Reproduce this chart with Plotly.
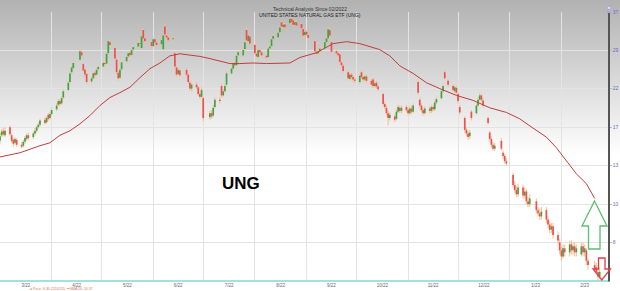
import math
import pandas as pd
import plotly.graph_objects as go

# ---------------- data (daily OHLC, UNG, 3/1/2022 - 2/24/2023) ----------------
opens = [
    15.4, 16.0, 16.5, 16.0,
    16.9, 16.0, 15.5, 15.2, 15.5,
    15.0, 14.9, 15.3, 15.6, 16.0,
    15.8, 16.2, 16.5, 16.9, 17.2,
    17.8, 17.5, 18.4, 18.0, 18.5,
    19.1, 19.7, 20.2, 19.9, 20.7,
    21.8, 23.0, 24.6, 25.3,
    26.8, 28.2, 26.0, 25.0, 24.3,
    23.1, 23.6, 24.5, 24.2, 25.1,
    25.6, 26.2, 26.1, 28.0, 30.2,
    29.0, 26.8, 24.5, 23.7, 25.1,
    26.5, 27.4, 28.1, 27.7, 28.7,
    29.3, 30.0, 29.0, 32.8, 31.0,
    30.2, 29.4, 30.8, 30.1,
    29.8, 28.8, 33.6, 31.6, 31.2,
    30.8, 28.0, 25.4, 24.3, 24.9,
    25.0, 24.2, 22.9, 22.0,
    22.6, 22.2, 21.2, 20.8, 20.6,
    18.1, 18.6, 18.3, 19.4,
    20.4, 22.4, 21.0, 21.6, 22.6,
    24.4, 25.2, 26.2, 25.8, 27.6,
    27.6, 28.8, 32.8, 30.4, 31.4,
    29.6, 27.9, 27.3, 28.6, 28.2,
    27.5, 27.3, 28.9, 29.4, 30.9,
    31.2, 32.3, 34.6, 33.5, 34.1,
    34.4, 35.4, 35.0, 34.0, 34.6,
    34.2, 33.0, 31.7, 32.4, 31.7,
    30.4, 28.3, 28.0, 28.4,
    29.0, 30.2, 31.0, 32.8, 30.2,
    28.4, 28.0, 27.8, 26.3, 25.7,
    24.6, 23.5, 24.2, 23.8, 23.4,
    23.0, 24.6, 23.8, 23.4, 23.9,
    23.2, 23.4, 22.4, 22.9, 22.3,
    21.2, 19.8, 19.3, 18.6, 18.0,
    18.2, 17.9, 18.8, 19.3, 18.9,
    19.4, 19.0, 18.6, 19.2, 18.8,
    23.0, 20.4, 19.6, 19.0, 18.6,
    19.2, 18.9, 19.4, 19.1, 20.0,
    20.6, 21.6, 24.6, 23.2,
    22.4, 21.6, 22.1, 21.2, 19.4,
    18.0, 16.6, 16.2, 15.9, 18.8,
    18.6, 19.6, 20.4, 21.0, 20.3,
    18.0, 16.3, 15.6, 15.0, 14.6,
    15.4, 14.2, 13.9, 13.4,
    12.2, 11.4, 11.0, 10.7,
    11.2, 10.6, 10.9, 10.2, 10.0,
    10.2, 9.6, 9.4, 9.2,
    9.6, 9.0, 8.7, 8.4, 8.6,
    8.1, 7.7, 7.3, 7.0, 7.4,
    7.2, 7.6, 7.3, 7.5, 7.2,
    7.1, 7.5, 7.2, 7.3, 6.8,
    6.6, 6.5, 6.3, 6.1,
]
highs = [
    16.2, 16.7, 16.8, 16.9,
    17.1, 16.2, 15.7, 15.8, 15.7,
    15.3, 15.5, 15.9, 16.2, 16.3,
    16.4, 16.8, 17.1, 17.5, 17.9,
    18.1, 18.2, 18.6, 18.8, 19.3,
    19.9, 20.5, 20.5, 20.9, 21.9,
    23.2, 24.7, 25.7, 26.5,
    29.0, 28.5, 26.2, 25.3, 24.5,
    23.9, 24.7, 24.8, 25.3, 25.8,
    26.5, 26.6, 28.2, 30.8, 30.6,
    29.3, 27.0, 24.8, 25.3, 26.6,
    27.6, 28.3, 28.4, 28.9, 29.5,
    30.4, 30.4, 31.8, 33.3, 31.3,
    30.5, 31.1, 31.1, 30.4,
    31.0, 31.9, 34.3, 32.0, 31.6,
    31.5, 28.2, 25.7, 25.3, 25.2,
    25.3, 24.5, 23.2, 22.9,
    23.0, 22.5, 21.5, 22.2, 20.8,
    18.9, 19.0, 19.7, 20.7,
    20.8, 22.7, 21.9, 22.7, 24.8,
    25.5, 26.5, 26.6, 27.8, 28.5,
    29.0, 30.6, 33.4, 31.9, 31.7,
    29.9, 28.2, 28.9, 28.9, 28.5,
    27.8, 29.2, 29.6, 31.1, 31.9,
    32.6, 33.8, 35.0, 34.4, 34.5,
    36.0, 35.8, 35.3, 34.9, 35.0,
    34.6, 33.3, 32.7, 32.8, 32.0,
    30.7, 28.6, 28.7, 29.2,
    30.5, 31.4, 33.6, 33.1, 30.4,
    28.7, 28.3, 28.0, 26.6, 26.0,
    24.9, 24.5, 24.5, 24.1, 23.7,
    24.3, 24.9, 24.1, 24.2, 24.2,
    23.5, 23.7, 23.1, 23.2, 22.6,
    21.4, 20.1, 19.6, 18.9, 18.7,
    18.5, 19.1, 19.7, 19.6, 19.6,
    19.7, 19.3, 19.5, 19.6, 19.9,
    23.4, 20.7, 19.9, 19.3, 19.5,
    19.5, 19.7, 19.7, 20.3, 20.8,
    21.9, 22.7, 25.0, 23.5,
    22.7, 22.5, 22.4, 21.4, 19.7,
    18.2, 16.9, 16.5, 16.6, 19.0,
    19.9, 20.7, 21.4, 21.2, 20.6,
    18.2, 16.5, 15.9, 15.3, 15.2,
    15.7, 14.4, 14.1, 13.7,
    12.4, 11.7, 11.3, 11.5,
    11.4, 11.2, 11.1, 10.5, 10.7,
    10.4, 9.8, 9.7, 9.8,
    9.8, 9.2, 8.9, 8.8, 8.8,
    8.3, 7.9, 7.5, 7.6, 7.6,
    7.8, 7.8, 7.7, 7.7, 7.6,
    7.7, 7.7, 7.6, 7.4, 6.9,
    6.8, 6.7, 6.4, 6.5,
]
lows = [
    15.1, 15.8, 15.9, 15.8,
    15.9, 15.2, 14.8, 15.0, 14.8,
    14.6, 14.7, 15.1, 15.4, 15.5,
    15.6, 16.0, 16.3, 16.7, 17.0,
    17.2, 17.3, 17.7, 17.8, 18.3,
    18.9, 19.5, 19.5, 19.7, 20.5,
    21.6, 22.8, 24.3, 25.0,
    26.6, 27.2, 24.6, 23.8, 22.7,
    22.8, 23.4, 23.8, 24.0, 24.9,
    25.3, 25.6, 25.9, 27.8, 29.3,
    26.8, 24.2, 23.2, 23.5, 24.9,
    26.3, 27.1, 27.3, 27.5, 28.5,
    29.0, 29.5, 28.8, 30.7, 30.1,
    29.1, 29.2, 29.9, 29.3,
    29.5, 28.5, 31.4, 30.8, 30.3,
    30.5, 25.2, 23.9, 24.0, 23.8,
    23.9, 22.7, 21.7, 21.6,
    21.9, 20.9, 20.5, 20.6, 17.6,
    17.8, 17.9, 18.1, 19.2,
    19.9, 20.7, 20.8, 21.4, 22.4,
    24.2, 25.0, 25.5, 25.6, 27.3,
    27.3, 28.5, 30.3, 30.1, 29.6,
    27.7, 27.1, 27.1, 27.9, 27.3,
    26.9, 27.1, 28.6, 29.2, 30.6,
    30.9, 32.0, 33.3, 33.2, 33.0,
    34.1, 34.2, 33.6, 33.7, 33.5,
    32.9, 31.3, 31.4, 31.5, 30.8,
    28.1, 27.6, 27.7, 28.1,
    28.8, 29.9, 30.8, 31.3, 28.0,
    27.7, 27.3, 26.1, 25.5, 24.5,
    23.3, 23.2, 23.4, 23.0, 22.9,
    22.8, 23.5, 23.1, 23.1, 22.9,
    22.3, 22.1, 22.1, 22.0, 21.6,
    19.5, 19.1, 18.3, 17.1, 17.7,
    17.5, 17.7, 18.6, 18.6, 18.6,
    18.7, 18.3, 18.4, 18.5, 18.6,
    21.1, 19.3, 18.7, 18.3, 18.4,
    18.6, 18.6, 18.8, 18.9, 19.8,
    20.4, 21.4, 23.3, 22.3,
    21.5, 21.3, 21.1, 19.9, 18.4,
    16.3, 15.9, 15.5, 15.6, 17.7,
    18.4, 19.4, 20.2, 20.1, 19.3,
    17.2, 15.3, 14.7, 14.4, 14.4,
    14.4, 13.6, 13.2, 13.0,
    11.2, 10.8, 10.5, 10.5,
    10.4, 10.4, 10.0, 9.8, 9.8,
    9.4, 9.2, 9.0, 9.0,
    8.8, 8.5, 8.2, 8.2, 7.9,
    7.6, 7.1, 6.8, 6.9, 7.0,
    7.0, 7.1, 7.1, 7.0, 7.0,
    7.0, 7.0, 7.0, 6.6, 6.4,
    6.3, 6.2, 5.95, 6.0,
]
closes = [
    15.9, 16.4, 16.1, 16.5,
    16.1, 15.4, 15.1, 15.6, 15.0,
    14.8, 15.3, 15.7, 16.0, 15.7,
    16.2, 16.5, 16.9, 17.2, 17.7,
    17.4, 18.0, 17.9, 18.5, 19.0,
    19.6, 20.2, 19.8, 20.6, 21.6,
    22.9, 24.4, 25.4, 26.2,
    28.4, 27.6, 24.9, 24.2, 23.0,
    23.6, 24.4, 24.1, 25.0, 25.5,
    26.2, 26.0, 27.9, 30.4, 29.6,
    27.0, 24.6, 23.6, 25.0, 26.3,
    27.3, 28.0, 27.6, 28.6, 29.2,
    30.0, 29.8, 31.4, 31.0, 30.4,
    29.4, 30.8, 30.2, 29.6,
    30.6, 31.6, 31.8, 31.2, 30.6,
    31.0, 25.6, 24.2, 25.0, 24.1,
    24.2, 23.0, 22.0, 22.6,
    22.2, 21.2, 20.8, 21.8, 18.0,
    18.6, 18.2, 19.3, 20.4,
    20.2, 21.0, 21.6, 22.4, 24.4,
    25.2, 26.2, 25.8, 27.5, 28.2,
    28.6, 30.2, 30.6, 31.6, 29.9,
    28.0, 27.4, 28.6, 28.2, 27.6,
    27.2, 28.9, 29.3, 30.8, 31.5,
    32.2, 33.4, 33.6, 34.0, 33.4,
    35.4, 34.6, 34.0, 34.6, 33.8,
    33.2, 31.6, 32.4, 31.8, 31.1,
    28.4, 27.9, 28.4, 28.9,
    30.2, 31.0, 33.0, 31.6, 28.3,
    28.0, 27.6, 26.4, 25.8, 24.8,
    23.6, 24.2, 23.8, 23.4, 23.2,
    24.0, 23.8, 23.4, 23.9, 23.2,
    22.6, 22.4, 22.8, 22.3, 21.9,
    19.8, 19.4, 18.6, 18.0, 18.4,
    17.8, 18.8, 19.4, 18.9, 19.3,
    19.0, 18.6, 19.2, 18.8, 19.6,
    21.4, 19.6, 19.0, 18.6, 19.2,
    18.9, 19.4, 19.1, 20.0, 20.5,
    21.6, 22.4, 23.6, 22.6,
    21.8, 22.2, 21.4, 20.2, 18.7,
    16.6, 16.2, 15.8, 16.3, 18.0,
    19.6, 20.4, 21.0, 20.4, 19.6,
    17.4, 15.6, 15.0, 14.6, 14.9,
    14.6, 13.9, 13.4, 13.2,
    11.4, 11.0, 10.7, 11.2,
    10.6, 10.9, 10.2, 10.0, 10.4,
    9.6, 9.4, 9.2, 9.5,
    9.0, 8.7, 8.4, 8.6, 8.1,
    7.8, 7.3, 7.0, 7.4, 7.2,
    7.6, 7.3, 7.5, 7.2, 7.4,
    7.5, 7.2, 7.4, 6.8, 6.6,
    6.4, 6.3, 6.1, 6.3,
]
market_holidays = ["2022-04-15", "2022-05-30", "2022-06-20", "2022-07-04", "2022-09-05",
                   "2022-11-24", "2022-12-26", "2023-01-02", "2023-01-16", "2023-02-20"]

sma_dates = ["2022-03-01", "2022-03-13", "2022-03-25", "2022-03-31", "2022-04-06", "2022-04-12",
             "2022-04-18", "2022-04-24", "2022-04-30", "2022-05-06", "2022-05-12", "2022-05-18",
             "2022-05-24", "2022-05-30", "2022-06-05", "2022-06-11", "2022-06-17", "2022-06-23",
             "2022-06-29", "2022-07-05", "2022-07-11", "2022-07-17", "2022-07-23", "2022-07-31",
             "2022-08-08", "2022-08-16", "2022-08-22", "2022-08-28", "2022-09-03", "2022-09-07",
             "2022-09-17", "2022-09-25", "2022-10-03", "2022-10-15", "2022-10-21", "2022-10-27",
             "2022-11-04", "2022-11-12", "2022-11-20", "2022-11-30", "2022-12-10", "2022-12-20",
             "2022-12-30", "2023-01-07", "2023-01-15", "2023-01-23", "2023-01-29", "2023-02-04",
             "2023-02-10", "2023-02-16", "2023-02-21"]
sma_values = [13.8, 14.2, 14.9, 15.2, 16.0, 16.5, 17.3, 18.3, 19.6, 20.7, 21.4, 22.2, 23.7, 25.2,
              26.2, 27.5, 27.9, 27.7, 27.4, 27.0, 26.5, 26.1, 26.1, 26.2, 26.1, 26.1, 26.2, 27.2,
              27.7, 28.1, 29.9, 30.3, 29.9, 28.7, 27.5, 25.7, 24.4, 22.9, 22.0, 21.0, 20.3, 19.3,
              18.7, 17.9, 16.8, 15.8, 14.7, 13.5, 12.3, 11.5, 10.4]

y_tick_vals = [7.7, 10, 13, 16.9, 22, 28.6, 37.1]
y_tick_text = ["8", "10", "13", "17", "22", "29", "37"]

# ---------------- build traces ----------------
all_days = pd.bdate_range("2022-03-01", "2023-02-24")
dates = [d for d in all_days if d.strftime("%Y-%m-%d") not in market_holidays]
n = min(len(dates), len(opens), len(highs), len(lows), len(closes))

wick_x, wick_y = [], []
up_x, up_y, dn_x, dn_y = [], [], [], []
for i in range(n):
    d = dates[i]
    wick_x += [d, d, None]
    wick_y += [lows[i], highs[i], None]
    if closes[i] >= opens[i]:
        up_x += [d, d, None]
        up_y += [opens[i], closes[i], None]
    else:
        dn_x += [d, d, None]
        dn_y += [opens[i], closes[i], None]

fig = go.Figure()
fig.add_trace(go.Scatter(x=wick_x, y=wick_y, mode="lines",
                         line=dict(color="rgb(242,190,140)", width=1), hoverinfo="skip"))
fig.add_trace(go.Scatter(x=up_x, y=up_y, mode="lines",
                         line=dict(color="rgb(60,165,70)", width=1.7), hoverinfo="skip"))
fig.add_trace(go.Scatter(x=dn_x, y=dn_y, mode="lines",
                         line=dict(color="rgb(238,80,80)", width=1.7), hoverinfo="skip"))
fig.add_trace(go.Scatter(x=sma_dates, y=sma_values, mode="lines",
                         line=dict(color="rgb(190,62,62)", width=1), hoverinfo="skip"))

# ---------------- layout decorations ----------------
W, H = 620, 291
ML, MR, MT, MB = 0, 12, 12, 10
PW, PH = W - ML - MR, H - MT - MB


def px(x):
    return (x - ML) / PW


def py(y):
    return (H - MB - y) / PH


shapes = []
# vertical grey gradient behind everything
top_gray, fade_end, step = 178, 156, 2
for yy in range(0, fade_end, step):
    g = int(round(top_gray + (255 - top_gray) * (yy + step / 2) / fade_end))
    shapes.append(dict(type="rect", xref="paper", yref="paper", layer="below",
                       x0=px(0), x1=px(W), y0=py(yy + step), y1=py(yy),
                       fillcolor=f"rgb({g},{g},{g})", line=dict(width=0)))
# cyan strip at bottom of plot
shapes.append(dict(type="line", xref="paper", yref="paper", x0=0, x1=1, y0=py(281), y1=py(281),
                   line=dict(color="rgb(160,226,226)", width=2)))


def path(points):
    return "M " + " L ".join(f"{px(a):.5f},{py(b):.5f}" for a, b in points) + " Z"


green_arrow = [(594.5, 201), (607, 226), (600, 226), (600, 249), (588.5, 249), (588.5, 226), (582, 226)]
red_arrow = [(598.5, 258), (605, 258), (605, 269), (610.5, 269), (601.8, 280), (593, 269), (598.5, 269)]
shapes.append(dict(type="path", xref="paper", yref="paper", path=path(green_arrow),
                   line=dict(color="rgb(92,190,110)", width=1.3), fillcolor="rgba(0,0,0,0)"))
shapes.append(dict(type="path", xref="paper", yref="paper", path=path(red_arrow),
                   line=dict(color="rgb(226,60,70)", width=1.3), fillcolor="rgba(0,0,0,0)"))

annotations = [
    dict(text="Technical Analysis Since 02/2022", x=px(310), y=py(4), xref="paper", yref="paper",
         showarrow=False, font=dict(size=5, color="#333")),
    dict(text="UNITED STATES NATURAL GAS ETF (UNG)", x=px(310), y=py(10), xref="paper", yref="paper",
         showarrow=False, font=dict(size=5, color="#222")),
    dict(text="<b>UNG</b>", x=px(241), y=py(195), xref="paper", yref="paper", showarrow=False,
         font=dict(size=17, color="black", family="Liberation Sans, Arial, sans-serif")),
    dict(text="● Price: 6.30 (2/24/23)  ━ SMA 50: 10.37", x=px(28), y=py(289), xref="paper", yref="paper",
         xanchor="left", yanchor="middle", showarrow=False, font=dict(size=3.5, color="rgb(232,110,90)")),
    dict(text="≡", x=px(611), y=py(6), xref="paper", yref="paper", showarrow=False,
         font=dict(size=5, color="#6a6ac8"), bgcolor="#dcdcf0", bordercolor="#9a9ac0", borderwidth=0.5,
         borderpad=0),
]

fig.update_layout(
    width=W, height=H, margin=dict(l=ML, r=MR, t=MT, b=MB),
    paper_bgcolor="white", plot_bgcolor="rgba(0,0,0,0)",
    showlegend=False, shapes=shapes, annotations=annotations,
    font=dict(family="Liberation Sans, Arial, sans-serif", size=5),
    xaxis=dict(type="date", range=["2022-03-01", "2023-03-01"], dtick="M1", tick0="2022-03-01",
               ticklabelmode="period", tickformat="%-m/%y", showgrid=True, gridcolor="#e3e3e3",
               gridwidth=1, showline=True, linecolor="#9a9a9a", linewidth=1, zeroline=False,
               tickfont=dict(size=4.5, color="#666"), ticks="", ticklabelstandoff=0),
    yaxis=dict(type="log", side="right", range=[math.log10(5.92), math.log10(37.1)],
               tickvals=y_tick_vals, ticktext=y_tick_text, showgrid=True, gridcolor="#e3e3e3",
               gridwidth=1, showline=True, linecolor="#555", linewidth=1.5, zeroline=False,
               ticks="outside", ticklen=2, tickcolor="#bbb",
               tickfont=dict(size=5, color="#6a6ac8")),
)

fig.write_html("out.html")
